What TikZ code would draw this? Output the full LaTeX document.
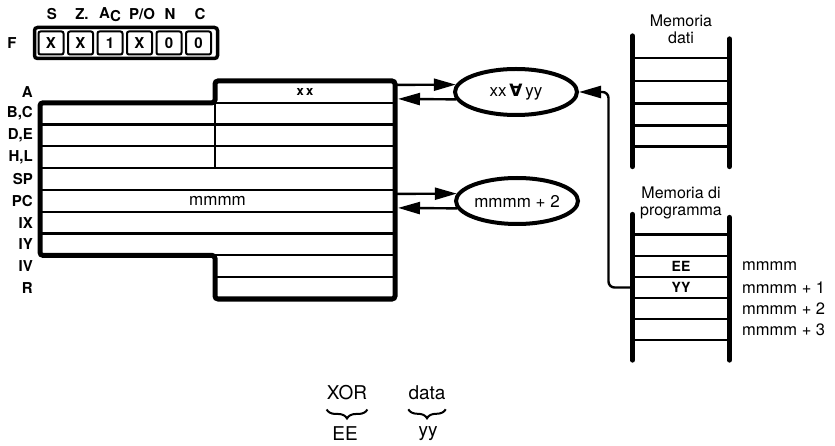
\documentclass[tikz,border=0pt]{standalone}
\usepackage{fontspec}
\setmainfont{TeX Gyre Heros}
\newfontfamily\dejavu{DejaVu Sans}
\usetikzlibrary{shapes.geometric,arrows.meta,decorations.pathreplacing,calc}
\begin{document}
\begin{tikzpicture}[x=1pt,y=-1pt,
  every node/.style={font=\fontsize{16}{17}\selectfont},
  lab/.style={font=\fontsize{15}{17}\selectfont\bfseries, anchor=east, inner sep=0pt},
  reg/.style={draw, line width=2.2pt, minimum height=21.8pt, inner sep=0pt, outer sep=0pt, anchor=north west},
  outer/.style={line width=5pt, rounded corners=3pt},
  fcell/.style={draw, rounded corners=2pt, line width=2pt, minimum width=25pt, minimum height=23pt, inner sep=0pt, font=\fontsize{15}{17}\selectfont\bfseries},
  flab/.style={font=\fontsize{15}{17}\selectfont\bfseries, inner sep=0pt},
  ell/.style={ellipse, draw, line width=4pt, minimum width=122pt, minimum height=46pt, inner sep=0pt, font=\fontsize{17}{19}\selectfont},
  arr/.style={-{Triangle[length=22pt,width=12pt]}, line width=2.4pt},
  mcell/.style={minimum width=97pt, minimum height=21.3pt, inner sep=0pt, outer sep=0pt, font=\fontsize{14}{16}\selectfont\bfseries},
  rail/.style={line width=5pt, line cap=round},
  hline/.style={line width=2.6pt},
  addr/.style={anchor=west, inner sep=0pt, font=\fontsize{16.5}{18}\selectfont},
  big/.style={font=\fontsize{19}{21}\selectfont, inner sep=0pt},
  brc/.style={decorate, decoration={brace, mirror, amplitude=9pt, aspect=0.5}, line width=2pt}
]
\useasboundingbox (0,0) rectangle (835,446);

% ---------- flag register ----------
\node[flab] (fF) at (12,43) {F};
\node[draw, rounded corners=3pt, line width=3.5pt, minimum width=183pt, minimum height=31pt, inner sep=0pt] (Fbox) at (126,43) {};
\node[fcell] (f1) at (51,43) {X};
\node[fcell] (f2) at (80.5,43) {X};
\node[fcell] (f3) at (110,43) {1};
\node[fcell] (f4) at (139.5,43) {X};
\node[fcell] (f5) at (169,43) {0};
\node[fcell] (f6) at (198.5,43) {0};
\node[flab] (tS) at (52,14) {S};
\node[flab] (tZ) at (82,14) {Z.};
\node[flab] (tA) at (110,15) {A\raisebox{-3pt}{C}};
\node[flab] (tP) at (142,14) {P/O};
\node[flab] (tN) at (170,14) {N};
\node[flab] (tC) at (200,14) {C};

% ---------- register file ----------
\node[reg, minimum width=180pt, font=\fontsize{13}{15}\selectfont\bfseries] (rA) at (215,81) {x\,x};
\node[reg, minimum width=175pt] (rBl) at (40,102.8) {};
\node[reg, minimum width=180pt] (rBr) at (215,102.8) {};
\node[reg, minimum width=175pt] (rDl) at (40,124.6) {};
\node[reg, minimum width=180pt] (rDr) at (215,124.6) {};
\node[reg, minimum width=175pt] (rHl) at (40,146.4) {};
\node[reg, minimum width=180pt] (rHr) at (215,146.4) {};
\node[reg, minimum width=355pt] (rSP) at (40,168.2) {};
\node[reg, minimum width=355pt, font=\fontsize{17}{19}\selectfont] (rPC) at (40,190) {mmmm};
\node[reg, minimum width=355pt] (rIX) at (40,211.8) {};
\node[reg, minimum width=355pt] (rIY) at (40,233.6) {};
\node[reg, minimum width=180pt] (rIV) at (215,255.4) {};
\node[reg, minimum width=180pt] (rR) at (215,277.2) {};
\draw[outer] (rBl.north west) -- (rA.south west) -- (rA.north west) -- (rA.north east)
  -- (rR.south east) -- (rR.south west) -- (rIV.north west) -- (rIY.south west) -- cycle;

\node[lab] (lA) at (33,91.9) {A};
\node[lab] (lB) at (33,113.7) {B,C};
\node[lab] (lD) at (33,135.5) {D,E};
\node[lab] (lH) at (33,157.3) {H,L};
\node[lab] (lSP) at (33,179.1) {SP};
\node[lab] (lPC) at (33,200.9) {PC};
\node[lab] (lIX) at (33,222.7) {IX};
\node[lab] (lIY) at (33,244.5) {IY};
\node[lab] (lIV) at (33,266.3) {IV};
\node[lab] (lR) at (33,288.1) {R};

% ---------- ALU ellipses ----------
\node[ell] (xor) at (516,92) {xx\,{\dejavu\bfseries ∀}\,yy};
\node[ell] (inc) at (517,201) {mmmm + 2};

\draw[arr] ($(rA.east)+(0,-7)$) -- (xor.173);
\draw[arr] (xor.187) -- ($(rA.east)+(3,7)$);
\draw[arr] ($(rPC.east)+(0,-7)$) -- (inc.173);
\draw[arr] (inc.187) -- ($(rPC.east)+(3,7)$);

% ---------- data memory ----------
\node[align=center, inner sep=0pt] (mdT) at (681,29) {Memoria\\dati};
\node[mcell] (d1) at (681,68.5) {};
\node[mcell] (d2) at (681,91.5) {};
\node[mcell] (d3) at (681,114) {};
\node[mcell] (d4) at (681,136) {};
\foreach \n in {d1,d2,d3,d4} \draw[hline] (\n.north west) -- (\n.north east);
\draw[hline] (d4.south west) -- (d4.south east);
\draw[rail] ($(d1.north west)+(0,-22)$) -- ($(d4.south west)+(0,20)$);
\draw[rail] ($(d1.north east)+(0,-19)$) -- ($(d4.south east)+(0,20)$);

% ---------- program memory ----------
\node[align=center, inner sep=0pt] (mpT) at (681,203) {Memoria di\\programma};
\node[mcell] (p1) at (681,245) {};
\node[mcell] (p2) at (681,266.5) {EE};
\node[mcell] (p3) at (681,287.5) {YY};
\node[mcell] (p4) at (681,308.5) {};
\node[mcell] (p5) at (681,329.5) {};
\foreach \n in {p1,p2,p3,p4,p5} \draw[hline] (\n.north west) -- (\n.north east);
\draw[hline] (p5.south west) -- (p5.south east);
\draw[rail] ($(p1.north west)+(0,-20)$) -- ($(p5.south west)+(0,20)$);
\draw[rail] ($(p1.north east)+(0,-17)$) -- ($(p5.south east)+(0,20)$);

\node[addr] (a0) at (742,266.5) {mmmm};
\node[addr] (a1) at (742,288) {mmmm + 1};
\node[addr] (a2) at (742,309) {mmmm + 2};
\node[addr] (a3) at (742,330) {mmmm + 3};

\draw[arr, rounded corners=6pt] (p3.west) -- ++(-24,0) |- (xor.east);

% ---------- bottom note ----------
\node[big] (tXOR) at (347,393) {XOR};
\node[big] (tdata) at (427,393) {data};
\draw[brc] ($(tXOR.south west)+(0,9)$) -- ($(tXOR.south east)+(0,9)$);
\draw[brc] ($(tdata.south west)+(0,9)$) -- ($(tdata.south east)+(0,9)$);
\node[big] (tEE) at (345,434) {EE};
\node[big] (tyy) at (428,434) {yy};
\end{tikzpicture}
\end{document}
